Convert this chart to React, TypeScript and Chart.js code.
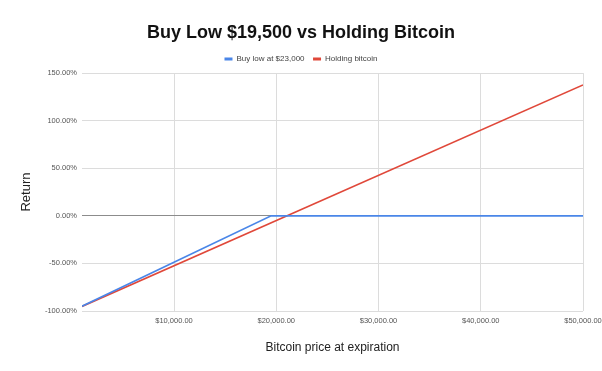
import React, { useEffect, useRef } from "react";
import { Chart, registerables } from "chart.js";

Chart.register(...registerables);

const TITLE = "Buy Low $19,500 vs Holding Bitcoin";
const X_TITLE = "Bitcoin price at expiration";
const Y_TITLE = "Return";
const SERIES_NAMES = ["Buy low at $23,000", "Holding bitcoin"];
const COLORS = ["#4a86e8", "#e0483a"];

// Bitcoin price (x) and return in % (y)
const BUY_LOW_X = [1000, 19500, 50000];
const BUY_LOW_Y = [-95, 0, 0];
const HOLD_X = [1000, 50000];
const HOLD_Y = [-95.2, 137.5];

const X_MIN = 1000;
const X_MAX = 50000;
const X_TICKS = [10000, 20000, 30000, 40000, 50000];
const Y_TICKS = [-100, -50, 0, 50, 100, 150];

export default function App() {
  const ref = useRef<HTMLCanvasElement | null>(null);
  useEffect(() => {
    document.body.style.margin = "0";
    const canvas = ref.current!;
    const fmtMoney = (v: number) =>
      "$" + v.toLocaleString("en-US", { minimumFractionDigits: 2, maximumFractionDigits: 2 });
    const chart = new Chart(canvas, {
      type: "scatter",
      data: {
        datasets: [
          {
            label: SERIES_NAMES[0],
            data: BUY_LOW_X.map((x, i) => ({ x, y: BUY_LOW_Y[i] })),
            borderColor: COLORS[0],
            backgroundColor: COLORS[0],
            borderWidth: 1.6,
            showLine: true,
            pointRadius: 0,
            order: 1,
          },
          {
            label: SERIES_NAMES[1],
            data: HOLD_X.map((x, i) => ({ x, y: HOLD_Y[i] })),
            borderColor: COLORS[1],
            backgroundColor: COLORS[1],
            borderWidth: 1.6,
            showLine: true,
            pointRadius: 0,
            order: 2,
          },
        ],
      },
      options: {
        responsive: false,
        animation: false,
        layout: { padding: { left: 0, right: 0, top: 0, bottom: 0 } },
        plugins: {
          title: {
            display: true,
            text: TITLE,
            color: "#111",
            font: { family: "Liberation Sans, Arial, sans-serif", size: 18, weight: "bold" },
            padding: { top: 22, bottom: 3 },
          },
          legend: {
            display: true,
            labels: {
              boxWidth: 8,
              boxHeight: 3,
              color: "#444",
              font: { family: "Liberation Sans, Arial, sans-serif", size: 8 },
              padding: 8.5,
              generateLabels: (c: any) =>
                Chart.defaults.plugins.legend.labels.generateLabels(c).map((l: any) => ({ ...l, lineWidth: 0 })),
            },
          },
          tooltip: { enabled: false },
        },
        scales: {
          x: {
            type: "linear",
            min: X_MIN,
            max: X_MAX,
            afterBuildTicks: (s: any) => {
              s.ticks = X_TICKS.map((v) => ({ value: v }));
            },
            afterFit: (s: any) => {
              s.height = 60;
              s.paddingRight = 19;
            },
            ticks: {
              color: "#555",
              font: { family: "Liberation Sans, Arial, sans-serif", size: 7.5 },
              maxRotation: 0,
              padding: 5,
              callback: (v: any) => fmtMoney(Number(v)),
            },
            grid: { color: "#dcdcdc", lineWidth: 1, drawTicks: false },
            border: { display: false },
            title: {
              display: true,
              text: X_TITLE,
              color: "#222",
              font: { family: "Liberation Sans, Arial, sans-serif", size: 12 },
              padding: { top: 4, bottom: 16 },
            },
          },
          y: {
            type: "linear",
            min: -100,
            max: 150,
            afterBuildTicks: (s: any) => {
              s.ticks = Y_TICKS.map((v) => ({ value: v }));
            },
            afterFit: (s: any) => {
              s.width = 82;
            },
            ticks: {
              color: "#555",
              font: { family: "Liberation Sans, Arial, sans-serif", size: 7.5 },
              padding: 5,
              callback: (v: any) => Number(v).toFixed(2) + "%",
            },
            grid: {
              color: (ctx: any) => (ctx.tick && ctx.tick.value === 0 ? "#8c8c8c" : "#dcdcdc"),
              lineWidth: 1,
              drawTicks: false,
            },
            border: { display: false },
            title: {
              display: true,
              text: Y_TITLE,
              color: "#222",
              font: { family: "Liberation Sans, Arial, sans-serif", size: 13 },
              padding: { top: 19, bottom: 4 },
            },
          },
        },
      } as any,
    });
    return () => chart.destroy();
  }, []);
  return <canvas ref={ref} width={602} height={371} style={{ display: "block" }} />;
}
